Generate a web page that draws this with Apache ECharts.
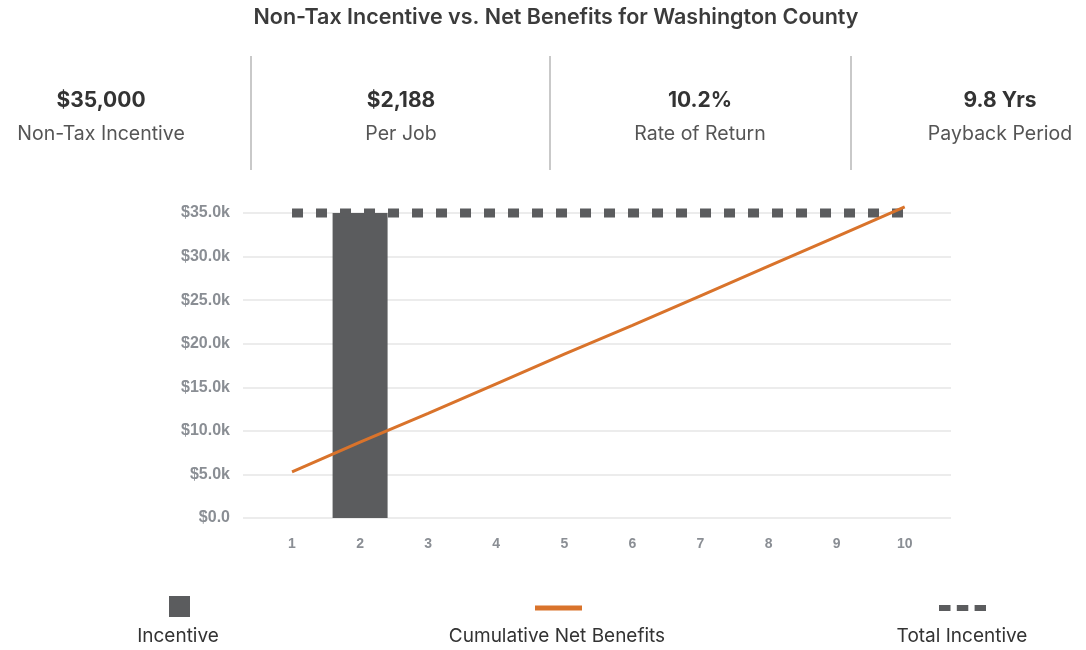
<!DOCTYPE html>
<html>
<head>
<meta charset="utf-8">
<script src="https://cdn.jsdelivr.net/npm/echarts@6/dist/echarts.min.js"></script>
<style>
  html, body { margin: 0; padding: 0; background: #fff; }
  #chart { width: 1086px; height: 650px; }
</style>
</head>
<body>
<div id="chart"></div>
<script>
// Chart data
const years = [1, 2, 3, 4, 5, 6, 7, 8, 9, 10];
const incentive = [0, 35000, 0, 0, 0, 0, 0, 0, 0, 0];
const cumulativeNetBenefits = [5300, 8700, 12000, 15400, 18800, 22100, 25500, 28900, 32300, 35700];
const totalIncentive = [35000, 35000, 35000, 35000, 35000, 35000, 35000, 35000, 35000, 35000];
const seriesNames = ['Incentive', 'Cumulative Net Benefits', 'Total Incentive'];
const yTicks = [0, 5000, 10000, 15000, 20000, 25000, 30000, 35000];

// Summary figures shown above the chart
const kpiValues = ['$35,000', '$2,188', '10.2%', '9.8 Yrs'];
const kpiLabels = ['Non-Tax Incentive', 'Per Job', 'Rate of Return', 'Payback Period'];

const FONT = 'Inter, "Open Sans", sans-serif';
const AXIS_FONT = '"Liberation Sans", Arial, sans-serif';
const GRAY = '#5b5c5e';
const ORANGE = '#d9732b';

const pairs = arr => years.map((y, i) => [y, arr[i]]);

const chart = echarts.init(document.getElementById('chart'));

// KPI blocks and dividers
const kpiCenters = [101, 401, 700, 1000];
const dividers = [251, 550, 851];
const graphics = [];
kpiValues.forEach((v, i) => {
  graphics.push({
    type: 'text', x: kpiCenters[i], y: 101,
    style: { text: v, font: '700 21px ' + FONT, fill: '#333', align: 'center', verticalAlign: 'middle' }
  });
  graphics.push({
    type: 'text', x: kpiCenters[i], y: 134,
    style: { text: kpiLabels[i], font: '400 19.5px ' + FONT, fill: '#555', align: 'center', verticalAlign: 'middle' }
  });
});
dividers.forEach(x => {
  graphics.push({
    type: 'line', shape: { x1: x, y1: 56, x2: x, y2: 170 },
    style: { stroke: '#c9c9c9', lineWidth: 2 }
  });
});

// Legend: icon above each name
const legendCenters = [178, 557, 962];
graphics.push({
  type: 'rect', shape: { x: 169, y: 596, width: 21, height: 21 },
  style: { fill: GRAY }
});
graphics.push({
  type: 'line', shape: { x1: 535, y1: 608, x2: 582, y2: 608 },
  style: { stroke: ORANGE, lineWidth: 5 }
});
graphics.push({
  type: 'line', shape: { x1: 939, y1: 608, x2: 986, y2: 608 },
  style: { stroke: GRAY, lineWidth: 6, lineDash: [11.5, 6.3] }
});
seriesNames.forEach((n, i) => {
  graphics.push({
    type: 'text', x: legendCenters[i], y: 636,
    style: { text: n, font: '400 19px ' + FONT, fill: '#333', align: 'center', verticalAlign: 'middle' }
  });
});

const option = {
  backgroundColor: '#fff',
  animation: false,
  title: {
    text: 'Non-Tax Incentive vs. Net Benefits for Washington County',
    left: 551,
    textAlign: 'center',
    top: 2,
    textStyle: { fontFamily: FONT, fontWeight: 600, fontSize: 21.5, color: '#3b3b3b' }
  },
  grid: { left: 243, right: 135, top: 213, bottom: 132 },
  xAxis: {
    type: 'value',
    min: 0.28,
    max: 10.68,
    axisLine: { show: false },
    axisTick: { show: false },
    splitLine: { show: false },
    axisLabel: {
      customValues: years,
      margin: 19,
      fontFamily: AXIS_FONT,
      fontWeight: 'bold',
      fontSize: 14,
      color: '#8a8e94'
    }
  },
  yAxis: {
    type: 'value',
    min: yTicks[0],
    max: yTicks[yTicks.length - 1],
    interval: 5000,
    axisLine: { show: false },
    axisTick: { show: false },
    splitLine: { lineStyle: { color: '#e6e6e6', width: 1.5 } },
    axisLabel: {
      margin: 13,
      fontFamily: AXIS_FONT,
      fontWeight: 'bold',
      fontSize: 16,
      color: '#8a8e94',
      formatter: v => v === 0 ? '$0.0' : '$' + (v / 1000).toFixed(1) + 'k'
    }
  },
  series: [
    {
      name: seriesNames[0],
      type: 'bar',
      data: pairs(incentive),
      barWidth: 55,
      itemStyle: { color: GRAY },
      z: 2
    },
    {
      name: seriesNames[2],
      type: 'line',
      data: pairs(totalIncentive),
      symbol: 'none',
      lineStyle: { color: GRAY, width: 9, type: [11, 13], cap: 'butt' },
      clip: false,
      z: 3
    },
    {
      name: seriesNames[1],
      type: 'line',
      data: pairs(cumulativeNetBenefits),
      symbol: 'none',
      lineStyle: { color: ORANGE, width: 3 },
      clip: false,
      z: 4
    }
  ],
  graphic: graphics
};

chart.setOption(option);
</script>
</body>
</html>
